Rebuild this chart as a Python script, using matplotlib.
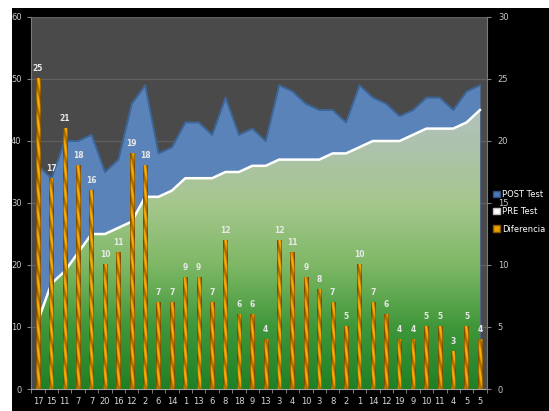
import numpy as np
import matplotlib
matplotlib.use("Agg")
import matplotlib.pyplot as plt
from matplotlib.patches import Rectangle, Patch
from matplotlib.colors import LinearSegmentedColormap

categories = ["17", "15", "11", "7", "7", "20", "16", "12", "2", "6", "14", "1", "13", "6",
              "8", "18", "9", "13", "3", "4", "10", "3", "8", "2", "1", "14", "12", "19",
              "9", "10", "11", "4", "5", "5"]
post_test = [36, 34, 40, 40, 41, 35, 37, 46, 49, 38, 39, 43, 43, 41, 47, 41, 42, 40,
             49, 48, 46, 45, 45, 43, 49, 47, 46, 44, 45, 47, 47, 45, 48, 49]
pre_test = [11, 17, 19, 22, 25, 25, 26, 27, 31, 31, 32, 34, 34, 34, 35, 35, 36, 36,
            37, 37, 37, 37, 38, 38, 39, 40, 40, 40, 41, 42, 42, 42, 43, 45]
diferencia = [25, 17, 21, 18, 16, 10, 11, 19, 18, 7, 7, 9, 9, 7, 12, 6, 6, 4,
              12, 11, 9, 8, 7, 5, 10, 7, 6, 4, 4, 5, 5, 3, 5, 4]

W, H = 549, 411
fig = plt.figure(figsize=(W / 100, H / 100), dpi=100, facecolor="white")
# black panel (white margin top/left like the source screenshot)
fig.patches.append(Rectangle((12 / W, 0), 1 - 12 / W, 1 - 8 / H, transform=fig.transFigure,
                             facecolor="black", edgecolor="none", zorder=-10))

ax = fig.add_axes([31.3 / W, 1 - 389 / H, (486.7 - 31.3) / W, (389 - 17) / H])
ax.set_facecolor("#4a4a4a")
x = np.arange(len(categories))

ax.set_axisbelow(True)
ax.yaxis.grid(True, color="#5f5f5f", lw=0.9)

# POST Test area
ax.fill_between(x, 0, post_test, color="#5a83b9", zorder=2, lw=0)
ax.plot(x, post_test, color="#3d6598", lw=1.4, zorder=2.5)

# PRE Test area with vertical gradient
poly = ax.fill_between(x, 0, pre_test, facecolor="none", edgecolor="none", zorder=3)
green = LinearSegmentedColormap.from_list(
    "g", ["#208026", "#3f973a", "#7fb866", "#a6c78e", "#aec2b0", "#b6c2c6"])
grad = np.linspace(0, 1, 256).reshape(-1, 1)
im = ax.imshow(grad, extent=[-0.5, len(x) - 0.5, 0, 50], aspect="auto", origin="lower",
               cmap=green, zorder=3)
im.set_clip_path(poly.get_paths()[0], ax.transData)
ax.plot(x, pre_test, color="white", lw=1.8, zorder=4)

ax.set_xlim(-0.5, len(x) - 0.5)
ax.set_ylim(0, 60)
ax.set_yticks(range(0, 61, 10))
ax.set_xticks(x)
ax.set_xticklabels(categories)
ax.set_xticks(np.arange(-0.5, len(x), 1), minor=True)
ax.tick_params(axis="x", which="major", length=0, pad=6, labelsize=6, labelcolor="#d8d8d8")
ax.tick_params(axis="x", which="minor", length=3, color="#909090")
ax.tick_params(axis="y", length=3, color="#808080", labelsize=6, labelcolor="#c8c8c8", pad=4)
for s in ["top", "right"]:
    ax.spines[s].set_visible(False)
ax.spines["left"].set_color("#7a7a7a")
ax.spines["bottom"].set_color("#a8a8a8")

# Diferencia bars on secondary axis
ax2 = ax.twinx()
ax2.patch.set_visible(False)
bw = 0.32
u = np.linspace(0, 1, 24)
bars = ax2.bar(x, diferencia, width=bw, color="#e8a000", edgecolor="none", zorder=5)
gold = LinearSegmentedColormap.from_list("gold", ["#5e3a00", "#a06800", "#e89a00", "#ffb410"])
for xi, d in zip(x, diferencia):
    rows = max(int(d * 12), 2)
    v = np.arange(rows).reshape(-1, 1)
    cyl = np.cos(np.pi * (u - 0.5)) ** 0.7
    twist = 0.68 + 0.32 * np.cos(2 * np.pi * (v / 22.0 + u * 0.9))
    img = cyl * twist
    ax2.imshow(img, extent=[xi - bw / 2, xi + bw / 2, 0, d], aspect="auto", origin="lower",
               cmap=gold, vmin=0, vmax=1, zorder=6)
    ax2.text(xi, d + 0.45, str(d), ha="center", va="bottom", fontsize=5.5,
             fontweight="bold", color="#e8e8e8", zorder=7)

ax2.set_xlim(-0.5, len(x) - 0.5)
ax2.set_ylim(0, 30)
ax2.set_yticks(range(0, 31, 5))
ax2.tick_params(axis="y", length=3, color="#808080", labelsize=6, labelcolor="#c8c8c8", pad=5)
for s in ["top", "left", "bottom"]:
    ax2.spines[s].set_visible(False)
ax2.spines["right"].set_color("#7a7a7a")

handles = [Patch(facecolor="#4a78b4", edgecolor="#2d5080", label="POST Test"),
           Patch(facecolor="white", edgecolor="#c0c0c0", label="PRE Test"),
           Patch(facecolor="#e8a000", edgecolor="#8a5a00", label="Diferencia")]
fig.legend(handles=handles, loc="upper left", bbox_to_anchor=(487 / W, 1 - 184 / H),
           frameon=False, fontsize=6, labelcolor="white", handlelength=0.8,
           handleheight=0.8, handletextpad=0.3, labelspacing=1.0, borderpad=0.2)

fig.savefig("out.png", dpi=100, facecolor=fig.get_facecolor())
